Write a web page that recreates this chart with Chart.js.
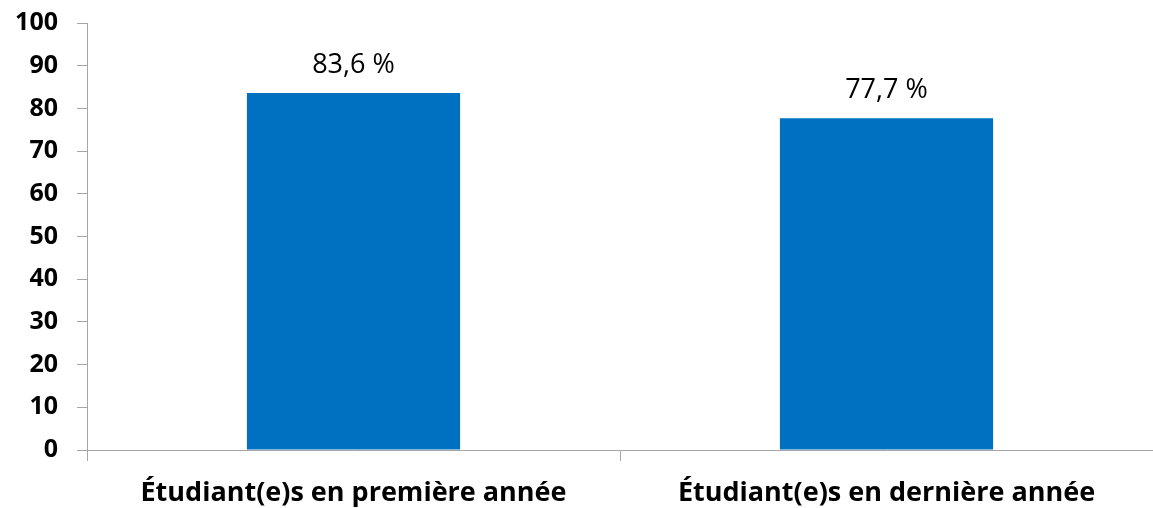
<!DOCTYPE html>
<html>
<head>
<meta charset="utf-8">
<script src="https://cdn.jsdelivr.net/npm/chart.js@4"></script>
<style>
  html, body { margin: 0; padding: 0; background: #fff; }
  #wrap { width: 1153px; height: 508px; }
</style>
</head>
<body>
<div id="wrap"><canvas id="chart" width="1153" height="508"></canvas></div>
<script>
const categories = ['Étudiant(e)s en première année', 'Étudiant(e)s en dernière année'];
const values = [83.6, 77.7];
const valueLabels = ['83,6 %', '77,7 %'];

const FONT = "'Open Sans', 'Noto Sans', sans-serif";
const axisGray = '#a6a6a6';

// draws the value label above each bar
const barLabels = {
    id: 'barLabels',
    afterDatasetsDraw(chart) {
        const ctx = chart.ctx;
        const meta = chart.getDatasetMeta(0);
        ctx.save();
        ctx.font = `27px ${FONT}`;
        ctx.fillStyle = '#000';
        ctx.textAlign = 'center';
        ctx.textBaseline = 'middle';
        meta.data.forEach((bar, i) => {
            ctx.fillText(valueLabels[i], bar.x, bar.y - 28);
        });
        ctx.restore();
    }
};

new Chart(document.getElementById('chart').getContext('2d'), {
    type: 'bar',
    data: {
        labels: categories,
        datasets: [{
            data: values,
            backgroundColor: '#0070c0',
            barPercentage: 0.4,
            categoryPercentage: 1.0
        }]
    },
    options: {
        responsive: false,
        animation: false,
        layout: { padding: 0 },
        plugins: { legend: { display: false }, tooltip: { enabled: false } },
        scales: {
            x: {
                afterFit(s) { s.height = 58; },
                grid: { offset: true, drawOnChartArea: false, drawTicks: true, tickLength: 11, color: axisGray },
                border: { color: axisGray, width: 1 },
                ticks: { color: '#000', padding: 16, font: { family: FONT, size: 27, weight: 'bold' }, maxRotation: 0 }
            },
            y: {
                min: 0,
                max: 100,
                afterFit(s) { s.width = 87; s.paddingTop = 23; },
                grid: { drawOnChartArea: false, drawTicks: true, tickLength: 10, color: axisGray },
                border: { color: axisGray, width: 1 },
                ticks: { stepSize: 10, color: '#000', padding: 19, font: { family: FONT, size: 25, weight: 'bold' } }
            }
        }
    },
    plugins: [barLabels]
});
</script>
</body>
</html>
